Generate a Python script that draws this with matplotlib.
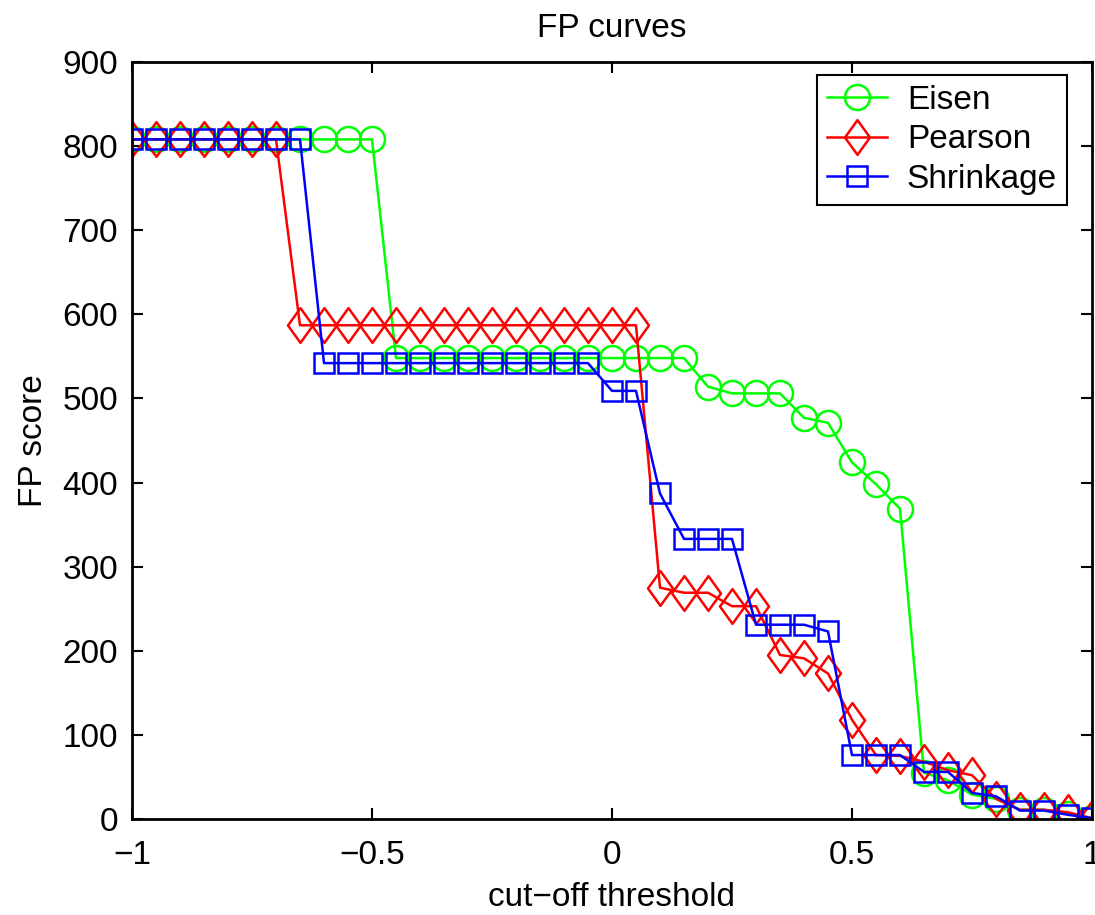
import numpy as np
import matplotlib
matplotlib.use("Agg")
from matplotlib import pyplot as plt
from matplotlib.path import Path


# cut-off thresholds, -1 : 0.05 : 1
thresholds = np.round(np.arange(-1.0, 1.0001, 0.05), 2)

eisen = [808] * 11 + [548] * 13 + [514, 506, 506, 506, 477, 471, 424, 398, 369,
                                  55, 46, 29, 24, 11, 11, 6, 1]
pearson = [808] * 7 + [587] * 15 + [275, 269, 269, 253, 253, 195, 191, 173, 118,
                                   76, 75, 68, 58, 52, 24, 11, 11, 8, 1]
shrinkage = [808] * 8 + [542] * 12 + [509, 509, 387, 333, 333, 333, 231, 231, 231,
                                     223, 76, 76, 76, 56, 56, 31, 27, 10, 10, 5, 1]

series_names = ["Eisen", "Pearson", "Shrinkage"]
x_ticks = [-1, -0.5, 0, 0.5, 1]
y_ticks = list(range(0, 901, 100))

plt.rcParams['font.family'] = ['Liberation Sans', 'DejaVu Sans']
fs = 24

# MATLAB style diamond, taller than wide
diamond = Path([(0, 0.5), (0.36, 0), (0, -0.5), (-0.36, 0), (0, 0.5)],
               [Path.MOVETO, Path.LINETO, Path.LINETO, Path.LINETO, Path.CLOSEPOLY])

dpi = 100
fig = plt.figure(figsize=(1095 / dpi, 915 / dpi), dpi=dpi)
ax = fig.add_axes([132 / 1095, 96 / 915, 960 / 1095, 757 / 915])

ax.plot(thresholds, eisen, color=(0, 1, 0), lw=1.8, marker='o', ms=18,
        mfc='none', mec=(0, 1, 0), mew=1.8, label=series_names[0])
ax.plot(thresholds, pearson, color=(1, 0, 0), lw=1.8, marker=diamond, ms=25,
        mfc='none', mec=(1, 0, 0), mew=1.8, label=series_names[1])
ax.plot(thresholds, shrinkage, color=(0, 0, 1), lw=1.8, marker='s', ms=15,
        mfc='none', mec=(0, 0, 1), mew=1.8, label=series_names[2])

ax.set_xlim(-1, 1)
ax.set_ylim(0, 900)
ax.set_xticks(x_ticks)
ax.set_xticklabels(["\u22121", "\u22120.5", "0", "0.5", "1"])
ax.set_yticks(y_ticks)
ax.tick_params(direction='in', length=8, width=1.5, top=True, right=True,
               labelsize=fs)
ax.tick_params(axis='x', pad=15)
ax.tick_params(axis='y', pad=10)
for sp in ax.spines.values():
    sp.set_linewidth(2)

ax.set_title("FP curves", fontsize=fs, pad=18)
ax.set_xlabel("cut\u2212off threshold", fontsize=fs, labelpad=8)
ax.set_ylabel("FP score", fontsize=fs, labelpad=10)

leg = ax.legend(loc='upper right', bbox_to_anchor=(1067 / 1095, 1 - 75 / 915),
                bbox_transform=fig.transFigure, borderaxespad=0, fontsize=fs,
                fancybox=False, framealpha=1, edgecolor='black',
                handlelength=1.8, handletextpad=0.6, labelspacing=0.25,
                borderpad=0.3)
leg.get_frame().set_linewidth(1.5)

fig.savefig("out.png", dpi=dpi)
